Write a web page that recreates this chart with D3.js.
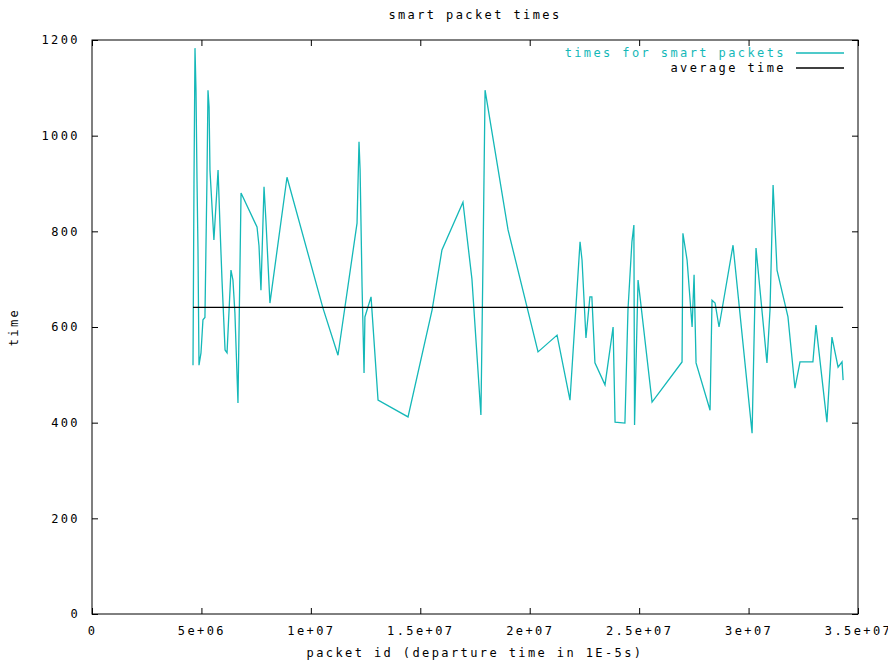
<!DOCTYPE html>
<html>
<head>
<meta charset="utf-8">
<script src="https://cdn.jsdelivr.net/npm/d3@7"></script>
<style>
  body { margin: 0; background: #fff; }
  text { font-family: "DejaVu Sans Mono", monospace; font-size: 12px; letter-spacing: 2.4px; }
</style>
</head>
<body>
<svg id="chart"></svg>
<script>
// packet ids (departure time in 1E-5s)
const packetIds = [
  4.615e6, 4.66e6, 4.706e6, 4.752e6, 4.798e6, 4.843e6, 4.889e6, 4.98e6, 5.07e6, 5.16e6,
  5.25e6, 5.30e6, 5.35e6, 5.39e6, 5.57e6, 5.76e6, 5.85e6, 5.94e6, 6.08e6, 6.17e6,
  6.35e6, 6.44e6, 6.53e6, 6.67e6, 6.81e6, 7.54e6, 7.63e6, 7.72e6, 7.86e6, 7.95e6,
  8.13e6, 8.91e6, 1.055e7, 1.124e7, 1.211e7, 1.22e7, 1.225e7, 1.234e7, 1.243e7, 1.247e7,
  1.275e7, 1.307e7, 1.444e7, 1.554e7, 1.599e7, 1.695e7, 1.736e7, 1.777e7, 1.787e7, 1.796e7,
  1.901e7, 2.038e7, 2.125e7, 2.184e7, 2.23e7, 2.239e7, 2.257e7, 2.275e7, 2.284e7, 2.298e7,
  2.344e7, 2.381e7, 2.39e7, 2.435e7, 2.449e7, 2.467e7, 2.476e7, 2.479e7, 2.495e7, 2.504e7,
  2.559e7, 2.696e7, 2.70e7, 2.719e7, 2.742e7, 2.751e7, 2.76e7, 2.824e7, 2.833e7, 2.847e7,
  2.865e7, 2.929e7, 3.016e7, 3.034e7, 3.084e7, 3.098e7, 3.112e7, 3.13e7, 3.18e7, 3.212e7,
  3.235e7, 3.294e7, 3.308e7, 3.358e7, 3.381e7, 3.409e7, 3.427e7, 3.432e7
];
// times for smart packets
const times = [
  520, 900, 1183, 1095, 907, 760, 520, 546, 615, 620,
  900, 1095, 1060, 928, 782, 928, 809, 698, 552, 546,
  719, 698, 629, 441, 880, 809, 770, 677, 893, 820,
  650, 913, 640, 541, 817, 987, 928, 684, 504, 621,
  663, 447, 412, 636, 761, 861, 700, 416, 755, 1095,
  803, 548, 583, 447, 778, 740, 577, 663, 663, 525,
  479, 600, 401, 399, 636, 778, 813, 395, 698, 663,
  443, 527, 796, 740, 600, 709, 525, 426, 656, 650,
  600, 771, 378, 765, 525, 636, 897, 719, 621, 472,
  527, 527, 604, 401, 579, 516, 527, 489
];
const averageTime = 641;

const xTicks = [0, 5e6, 1e7, 1.5e7, 2e7, 2.5e7, 3e7, 3.5e7];
const xTickLabels = ['0', '5e+06', '1e+07', '1.5e+07', '2e+07', '2.5e+07', '3e+07', '3.5e+07'];
const yTicks = [0, 200, 400, 600, 800, 1000, 1200];

const svgWidth = 888;
const svgHeight = 661;
const margin = { top: 40, right: 30, bottom: 47, left: 92 };
const width = svgWidth - margin.left - margin.right;
const height = svgHeight - margin.top - margin.bottom;

const cyan = '#14b8b8';

const svg = d3.select('#chart')
    .attr('width', svgWidth)
    .attr('height', svgHeight);

const xScale = d3.scaleLinear().domain([0, 3.5e7]).range([margin.left, margin.left + width]);
const yScale = d3.scaleLinear().domain([0, 1200]).range([margin.top + height, margin.top]);

// ticks on all four sides, pointing inward (gnuplot style)
const tickLen = 6;
svg.append('g')
    .attr('transform', `translate(0, ${margin.top + height})`)
    .call(d3.axisBottom(xScale).tickValues(xTicks).tickSize(-tickLen).tickPadding(12)
        .tickFormat((d, i) => xTickLabels[i]))
    .call(g => g.select('.domain').remove());
svg.append('g')
    .attr('transform', `translate(0, ${margin.top})`)
    .call(d3.axisTop(xScale).tickValues(xTicks).tickSize(-tickLen).tickFormat(''))
    .call(g => g.select('.domain').remove());
svg.append('g')
    .attr('transform', `translate(${margin.left}, 0)`)
    .call(d3.axisLeft(yScale).tickValues(yTicks).tickSize(-tickLen).tickPadding(12)
        .tickFormat(d3.format('d')))
    .call(g => g.select('.domain').remove());
svg.append('g')
    .attr('transform', `translate(${margin.left + width}, 0)`)
    .call(d3.axisRight(yScale).tickValues(yTicks).tickSize(-tickLen).tickFormat(''))
    .call(g => g.select('.domain').remove());

svg.selectAll('.tick line').attr('stroke', '#000');
svg.selectAll('.tick text')
    .attr('fill', '#000')
    .style('font-family', '"DejaVu Sans Mono", monospace')
    .style('font-size', '12px');

// frame
svg.append('rect')
    .attr('x', margin.left)
    .attr('y', margin.top)
    .attr('width', width)
    .attr('height', height)
    .attr('fill', 'none')
    .attr('stroke', '#000')
    .attr('stroke-width', 1);

// data line
const line = d3.line()
    .x((d, i) => xScale(packetIds[i]))
    .y(d => yScale(d));

svg.append('path')
    .datum(times)
    .attr('fill', 'none')
    .attr('stroke', cyan)
    .attr('stroke-width', 1.3)
    .attr('d', line);

// average line
svg.append('line')
    .attr('x1', xScale(d3.min(packetIds)))
    .attr('x2', xScale(d3.max(packetIds)))
    .attr('y1', yScale(averageTime))
    .attr('y2', yScale(averageTime))
    .attr('stroke', '#000')
    .attr('stroke-width', 1.3);

// title and axis labels
svg.append('text')
    .attr('x', 475)
    .attr('y', 19)
    .attr('text-anchor', 'middle')
    .text('smart packet times');

svg.append('text')
    .attr('x', 475)
    .attr('y', 657)
    .attr('text-anchor', 'middle')
    .text('packet id (departure time in 1E-5s)');

svg.append('text')
    .attr('transform', 'translate(18, 327) rotate(-90)')
    .attr('text-anchor', 'middle')
    .text('time');

// legend
const legend = [
    { label: 'times for smart packets', color: cyan, textColor: cyan },
    { label: 'average time', color: '#000', textColor: '#000' }
];
legend.forEach((d, i) => {
    const y = 53 + i * 15;
    svg.append('text')
        .attr('x', 786)
        .attr('y', y + 4)
        .attr('text-anchor', 'end')
        .attr('fill', d.textColor)
        .text(d.label);
    svg.append('line')
        .attr('x1', 796)
        .attr('x2', 844)
        .attr('y1', y)
        .attr('y2', y)
        .attr('stroke', d.color)
        .attr('stroke-width', 1.3);
});
</script>
</body>
</html>
